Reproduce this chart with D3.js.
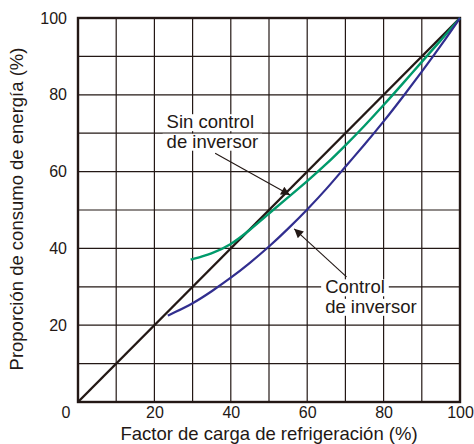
<!DOCTYPE html>
<html>
<head>
<meta charset="utf-8">
<script src="https://cdn.jsdelivr.net/npm/d3@7"></script>
<style>
  body { margin: 0; background: #fff; }
  text { font-family: "Liberation Sans", Arial, Helvetica, sans-serif; fill: #231815; }
</style>
</head>
<body>
<div id="chart"></div>
<script>
// load factor (%) vs energy share (%)
const tickValues = [0, 20, 40, 60, 80, 100];
const gridValues = [10, 20, 30, 40, 50, 60, 70, 80, 90];

const noControlX = [0, 100];
const noControlY = [0, 100];

const greenX = [29.5, 35, 40, 45, 50, 55, 60, 65, 70, 75, 80, 85, 90, 95, 100];
const greenY = [37.1, 38.6, 40.9, 44.8, 49.1, 53.3, 57.5, 61.9, 66.8, 71.9, 77.3, 82.9, 88.6, 94.2, 100];

const blueX = [23.5, 25, 30, 35, 40, 45, 50, 55, 60, 65, 70, 75, 80, 85, 90, 95, 100];
const blueY = [22.5, 23.2, 25.6, 28.8, 32.3, 36.2, 40.4, 45.1, 50.1, 55.4, 61.3, 67.0, 73.0, 79.4, 86.0, 92.8, 100];

const xTitle = 'Factor de carga de refrigeración (%)';
const yTitle = 'Proporción de consumo de energía (%)';

const labelSin = ['Sin control', 'de inversor'];
const labelCon = ['Control', 'de inversor'];

const config = {
  width: 474, height: 444,
  margin: { top: 18, right: 14, bottom: 42, left: 78 },
};
const INK = '#231815';

const innerW = config.width - config.margin.left - config.margin.right;
const innerH = config.height - config.margin.top - config.margin.bottom;

const svg = d3.select('#chart').append('svg')
  .attr('width', config.width)
  .attr('height', config.height);

svg.append('defs').append('marker')
  .attr('id', 'arrow')
  .attr('viewBox', '0 0 10 10')
  .attr('refX', 10).attr('refY', 5)
  .attr('markerWidth', 11).attr('markerHeight', 9)
  .attr('markerUnits', 'userSpaceOnUse')
  .attr('orient', 'auto')
  .append('path')
  .attr('d', 'M0,0L10,5L0,10Z')
  .attr('fill', INK);

const g = svg.append('g')
  .attr('transform', `translate(${config.margin.left},${config.margin.top})`);

const x = d3.scaleLinear().domain([0, 100]).range([0, innerW]);
const y = d3.scaleLinear().domain([0, 100]).range([innerH, 0]);

/* grid */
g.append('g').selectAll('line.v')
  .data(gridValues).join('line')
  .attr('x1', (d) => x(d)).attr('x2', (d) => x(d))
  .attr('y1', 0).attr('y2', innerH)
  .attr('stroke', INK).attr('stroke-width', 1.2);
g.append('g').selectAll('line.h')
  .data(gridValues).join('line')
  .attr('x1', 0).attr('x2', innerW)
  .attr('y1', (d) => y(d)).attr('y2', (d) => y(d))
  .attr('stroke', INK).attr('stroke-width', 1.2);

/* axes (labels only, frame drawn separately) */
const xAxis = g.append('g')
  .attr('transform', `translate(0,${innerH})`)
  .call(d3.axisBottom(x).tickValues(tickValues).tickSize(0).tickPadding(5));
xAxis.select('.domain').remove();
xAxis.selectAll('text')
  .attr('font-size', 16)
  .attr('font-family', '"Liberation Sans", Arial, sans-serif')
  .attr('fill', INK);
xAxis.selectAll('.tick').filter((d) => d === 0).select('text')
  .attr('text-anchor', 'end').attr('x', -8);

const yAxis = g.append('g')
  .call(d3.axisLeft(y).tickValues(tickValues.filter((d) => d > 0)).tickSize(0).tickPadding(11));
yAxis.select('.domain').remove();
yAxis.selectAll('text')
  .attr('font-size', 16)
  .attr('font-family', '"Liberation Sans", Arial, sans-serif')
  .attr('fill', INK);

/* labels with white boxes */
function addLabel(lines, lx, ly) {
  const grp = g.append('g');
  lines.forEach((t, i) => {
    const txt = grp.append('text')
      .attr('x', x(lx)).attr('y', y(ly) + i * 19.5)
      .attr('font-size', 18.5)
      .text(t);
    const b = txt.node().getBBox();
    grp.insert('rect', 'text')
      .attr('x', b.x - 4).attr('y', b.y + 3)
      .attr('width', b.width + 8).attr('height', b.height - 4)
      .attr('fill', '#fff');
  });
}
addLabel(labelSin, 23.2, 71.3);
addLabel(labelCon, 64.7, 28.3);

/* frame */
g.append('rect')
  .attr('width', innerW).attr('height', innerH)
  .attr('fill', 'none').attr('stroke', INK).attr('stroke-width', 2.4);

/* lines */
const line = d3.line()
  .x((d) => x(d[0])).y((d) => y(d[1]))
  .curve(d3.curveBasis);

g.append('path')
  .datum(d3.zip(noControlX, noControlY))
  .attr('d', line)
  .attr('fill', 'none').attr('stroke', INK).attr('stroke-width', 2.4);

g.append('path')
  .datum(d3.zip(greenX, greenY))
  .attr('d', line)
  .attr('fill', 'none').attr('stroke', '#009a6b').attr('stroke-width', 2.4);

g.append('path')
  .datum(d3.zip(blueX, blueY))
  .attr('d', line)
  .attr('fill', 'none').attr('stroke', '#312e8f').attr('stroke-width', 2.2);

/* arrows */
const arrows = [
  { from: [35.9, 64.8], to: [55.5, 53.9] },
  { from: [70.3, 32.6], to: [56.6, 45.1] },
];
g.selectAll('.arrow')
  .data(arrows).join('line')
  .attr('class', 'arrow')
  .attr('x1', (d) => x(d.from[0])).attr('y1', (d) => y(d.from[1]))
  .attr('x2', (d) => x(d.to[0])).attr('y2', (d) => y(d.to[1]))
  .attr('stroke', INK).attr('stroke-width', 1.1)
  .attr('marker-end', 'url(#arrow)');

/* axis titles */
svg.append('text')
  .attr('x', config.margin.left + innerW / 2)
  .attr('y', 440)
  .attr('text-anchor', 'middle')
  .attr('font-size', 18.5)
  .text(xTitle);

svg.append('text')
  .attr('transform', `translate(23,${config.margin.top + innerH / 2 - 1}) rotate(-90)`)
  .attr('text-anchor', 'middle')
  .attr('font-size', 18.5)
  .text(yTitle);
</script>
</body>
</html>
